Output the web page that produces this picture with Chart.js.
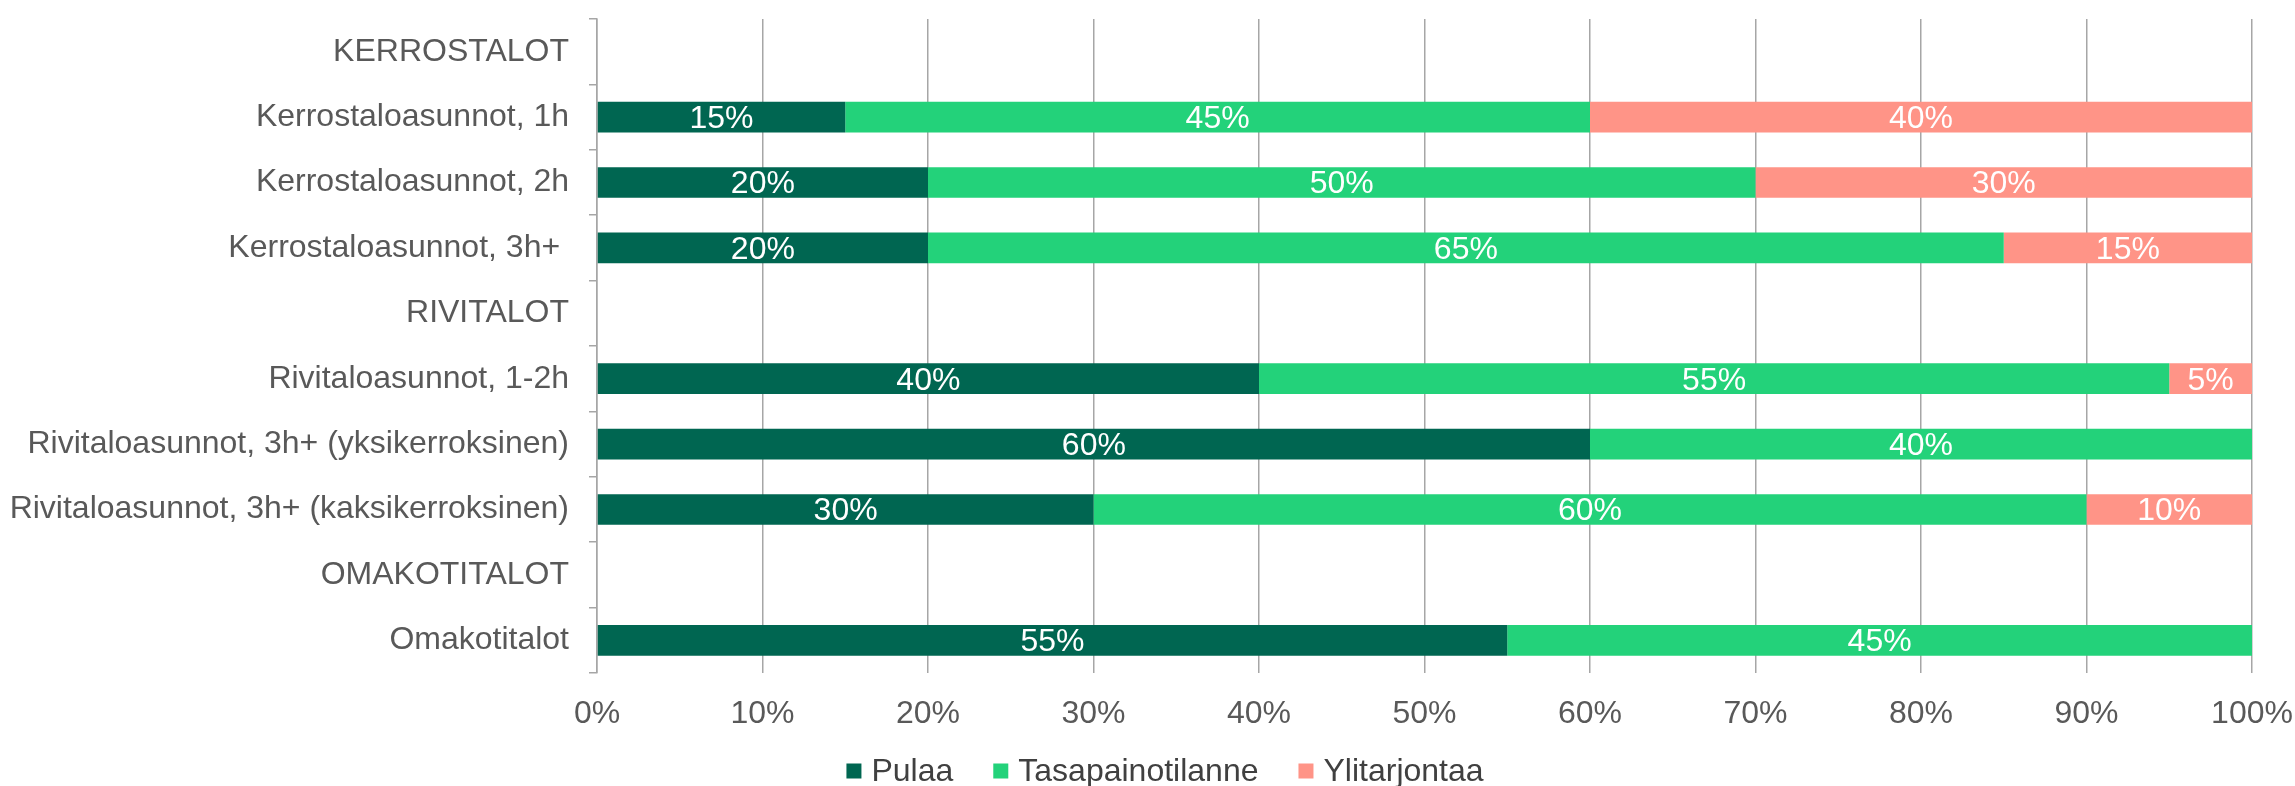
<!DOCTYPE html>
<html>
<head>
<meta charset="utf-8">
<script src="https://cdn.jsdelivr.net/npm/chart.js@4/dist/chart.umd.min.js"></script>
<style>
  html, body { margin: 0; padding: 0; background: #fff; overflow: hidden; }
  #wrap { position: relative; width: 2295px; height: 786px; }
</style>
</head>
<body>
<div id="wrap"><canvas id="chart"></canvas></div>
<script>
'use strict';

const categories = [
  'KERROSTALOT',
  'Kerrostaloasunnot, 1h',
  'Kerrostaloasunnot, 2h',
  'Kerrostaloasunnot, 3h+ ',
  'RIVITALOT',
  'Rivitaloasunnot, 1-2h',
  'Rivitaloasunnot, 3h+ (yksikerroksinen)',
  'Rivitaloasunnot, 3h+ (kaksikerroksinen)',
  'OMAKOTITALOT',
  'Omakotitalot',
];
const pulaa = [null, 15, 20, 20, null, 40, 60, 30, null, 55];
const tasapaino = [null, 45, 50, 65, null, 55, 40, 60, null, 45];
const ylitarjonta = [null, 40, 30, 15, null, 5, null, 10, null, null];
const seriesNames = ['Pulaa', 'Tasapainotilanne', 'Ylitarjontaa'];
const seriesColors = ['#006651', '#23d27a', '#ff9487'];
const xTicks = [0, 10, 20, 30, 40, 50, 60, 70, 80, 90, 100];

const FONT = '"Liberation Sans", Arial, sans-serif';
const FS = 32;
const GRID = '#a6a6a6';

// white value labels centred in each bar segment
const barLabels = {
  id: 'barLabels',
  afterDatasetsDraw(chart) {
    const ctx = chart.ctx;
    ctx.save();
    ctx.fillStyle = '#ffffff';
    ctx.font = FS + 'px ' + FONT;
    ctx.textAlign = 'center';
    ctx.textBaseline = 'middle';
    chart.data.datasets.forEach((ds, i) => {
      const meta = chart.getDatasetMeta(i);
      meta.data.forEach((el, j) => {
        const v = ds.data[j];
        if (v == null || v === 0) return;
        const p = el.getProps(['x', 'y', 'base'], true);
        ctx.fillText(v + '%', (p.x + p.base) / 2, p.y + 2);
      });
    });
    ctx.restore();
  },
};

// Excel-style legend: small square, short gap, label; centred under the plot
const bottomLegend = {
  id: 'bottomLegend',
  afterDraw(chart) {
    const ctx = chart.ctx;
    const box = 15, gap = 10, itemGap = 40, cy = 771;
    ctx.save();
    ctx.font = FS + 'px ' + FONT;
    ctx.textBaseline = 'middle';
    const items = chart.data.datasets.map((ds) => ({
      text: ds.label, color: ds.backgroundColor, w: ctx.measureText(ds.label).width,
    }));
    const total = items.reduce((s, it) => s + box + gap + it.w, 0) + itemGap * (items.length - 1);
    let x = 1165 - total / 2;
    items.forEach((it) => {
      ctx.fillStyle = it.color;
      ctx.fillRect(x, cy - box / 2, box, box);
      ctx.fillStyle = '#404040';
      ctx.fillText(it.text, x + box + gap, cy + 1);
      x += box + gap + it.w + itemGap;
    });
    ctx.restore();
  },
};

new Chart(document.getElementById('chart'), {
  type: 'bar',
  data: {
    labels: categories,
    datasets: seriesNames.map((name, i) => ({
      label: name,
      data: [pulaa, tasapaino, ylitarjonta][i],
      backgroundColor: seriesColors[i],
    })),
  },
  options: {
    indexAxis: 'y',
    animation: false,
    responsive: true,
    maintainAspectRatio: false,
    layout: { padding: { top: 19, right: 43, left: 0, bottom: 41 } },
    datasets: { bar: { barPercentage: 0.47, categoryPercentage: 1 } },
    plugins: {
      tooltip: { enabled: false },
      legend: { display: false },
    },
    scales: {
      x: {
        stacked: true,
        min: 0,
        max: 100,
        afterBuildTicks: (s) => { s.ticks = xTicks.map((v) => ({ value: v })); },
        afterFit: (s) => { s.height = 72; s.paddingLeft = 0; s.paddingRight = 0; },
        ticks: {
          callback: (v) => v + '%',
          font: { family: FONT, size: FS },
          color: '#595959',
          padding: 22,
          maxRotation: 0,
        },
        grid: { color: GRID, lineWidth: 1.5, drawTicks: false },
        border: { display: false },
      },
      y: {
        stacked: true,
        afterFit: (s) => { s.width = 597; s.paddingTop = 0; s.paddingBottom = 0; },
        ticks: {
          font: { family: FONT, size: FS },
          color: '#595959',
          padding: 20,
          autoSkip: false,
        },
        grid: { color: GRID, lineWidth: 1.5, drawOnChartArea: false, offset: true, tickLength: 8 },
        border: { color: GRID, width: 1.5 },
      },
    },
  },
  plugins: [barLabels, bottomLegend],
});
</script>
</body>
</html>
